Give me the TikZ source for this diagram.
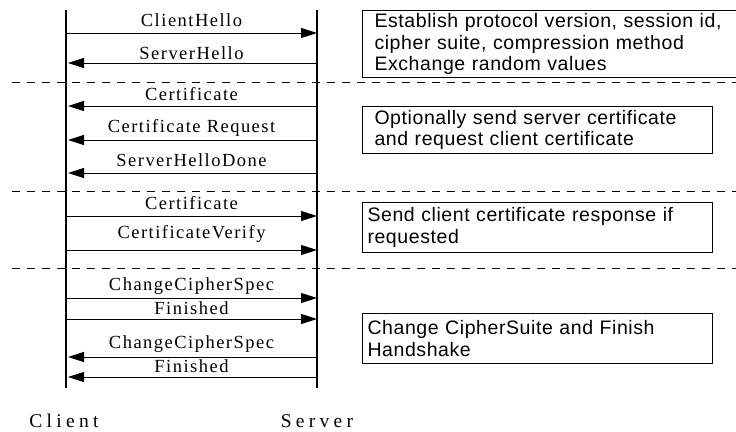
\documentclass[tikz,border=0pt]{standalone}
\usepackage{fontspec}
\setsansfont{Liberation Sans}[LetterSpace=3]
\newfontfamily\msgfont{Liberation Serif}[LetterSpace=8,Ligatures=CommonOff]
\newfontfamily\partyfont{Liberation Serif}[LetterSpace=22,Ligatures=CommonOff]
\usetikzlibrary{arrows.meta}

\tikzset{
    lifeline/.style={line width=1.3pt},
    msg/.style={line width=1pt, -{Triangle[length=16pt, width=10pt]}},
    msgback/.style={msg, shorten >=2pt},
    sep/.style={line width=0.9pt, dash pattern=on 8pt off 7pt},
    msglabel/.style={inner sep=0pt, text depth=0pt, font=\msgfont\fontsize{18.5}{22}\selectfont},
    phase/.style={draw, line width=1pt, anchor=north west, align=left, inner ysep=0pt, font=\sffamily\fontsize{19.5}{21.5}\selectfont},
    party/.style={inner sep=0pt, anchor=base, font=\partyfont\fontsize{19.5}{24}\selectfont}
}

\begin{document}
\begin{tikzpicture}[x=1pt, y=-1pt]
    \clip (0,0) rectangle (736,431);

    % Lifelines
    \coordinate (cli-top) at (66,10);
    \coordinate (cli-bot) at (66,388);
    \coordinate (srv-top) at (317,10);
    \coordinate (srv-bot) at (317,388);
    \draw[lifeline] (cli-top) -- (cli-bot);
    \draw[lifeline] (srv-top) -- (srv-bot);
    \node[party] (client) at (64,427) {Client};
    \node[party] (server) at (317,427) {Server};

    % Phase separators
    \draw[sep] (12,82) -- (736,82);
    \draw[sep] (12,191) -- (736,191);
    \draw[sep] (12,268) -- (736,268);

    % Hello messages
    \draw[msg] (cli-top |- 0,33) -- (srv-top |- 0,33) node[msglabel, midway, above=6pt] (m-chello) {ClientHello};
    \draw[msgback] (srv-top |- 0,63) -- (cli-top |- 0,63) node[msglabel, midway, above=3pt] (m-shello) {ServerHello};

    % Server certificate
    \draw[msgback] (srv-top |- 0,106) -- (cli-top |- 0,106) node[msglabel, midway, above=5pt] (m-scert) {Certificate};
    \draw[msgback] (srv-top |- 0,140) -- (cli-top |- 0,140) node[msglabel, midway, above=7pt] (m-creq) {Certificate Request};
    \draw[msgback] (srv-top |- 0,173) -- (cli-top |- 0,173) node[msglabel, midway, above=6pt] (m-shdone) {ServerHelloDone};

    % Client certificate
    \draw[msg] (cli-top |- 0,216) -- (srv-top |- 0,216) node[msglabel, midway, above=6pt] (m-ccert) {Certificate};
    \draw[msg] (cli-top |- 0,250) -- (srv-top |- 0,250) node[msglabel, midway, above=11pt] (m-cverify) {CertificateVerify};

    % Finish
    \draw[msg] (cli-top |- 0,298) -- (srv-top |- 0,298) node[msglabel, midway, above=7pt] (m-cccs) {ChangeCipherSpec};
    \draw[msg] (cli-top |- 0,319) -- (srv-top |- 0,319) node[msglabel, midway, above=4pt] (m-cfin) {Finished};
    \draw[msgback] (srv-top |- 0,357) -- (cli-top |- 0,357) node[msglabel, midway, above=8pt] (m-sccs) {ChangeCipherSpec};
    \draw[msgback] (srv-top |- 0,377) -- (cli-top |- 0,377) node[msglabel, midway, above=4pt] (m-sfin) {Finished};

    % Phase notes
    \node[phase, inner xsep=12pt, text width=366pt, minimum height=67pt] (note-hello) at (362,10)
        {Establish protocol version, session id,\\cipher suite, compression method\\Exchange random values};
    \node[phase, inner xsep=12pt, text width=326pt, minimum height=47pt] (note-scert) at (362,106)
        {Optionally send server certificate\\and request client certificate};
    \node[phase, inner xsep=5pt, text width=340pt, minimum height=50pt] (note-ccert) at (362,202)
        {Send client certificate response if\\requested};
    \node[phase, inner xsep=5pt, text width=340pt, minimum height=50pt] (note-fin) at (362,313)
        {Change CipherSuite and Finish\\Handshake};
\end{tikzpicture}
\end{document}
